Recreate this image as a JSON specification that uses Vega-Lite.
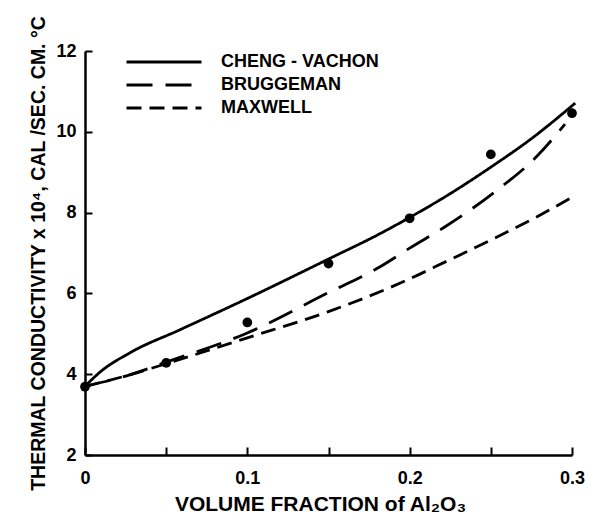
{
  "$schema": "https://vega.github.io/schema/vega-lite/v6.json",
  "width": 487,
  "height": 404,
  "autosize": {"type": "none"},
  "padding": {"left": 85, "top": 51, "right": 19, "bottom": 63},
  "background": "white",
  "config": {
    "view": {"stroke": null},
    "font": "Liberation Sans",
    "axis": {"domainColor": "black", "domainWidth": 2.5, "tickColor": "black", "tickWidth": 2, "labelColor": "black", "titleColor": "black", "grid": false}
  },
  "datasets": {
    "curves": [
      {"model": "CHENG - VACHON", "x": 0, "y": 3.7},
      {"model": "CHENG - VACHON", "x": 0.0092, "y": 4.05},
      {"model": "CHENG - VACHON", "x": 0.0277, "y": 4.53},
      {"model": "CHENG - VACHON", "x": 0.0585, "y": 5.1},
      {"model": "CHENG - VACHON", "x": 0.0998, "y": 5.87},
      {"model": "CHENG - VACHON", "x": 0.15, "y": 6.85},
      {"model": "CHENG - VACHON", "x": 0.1818, "y": 7.48},
      {"model": "CHENG - VACHON", "x": 0.2, "y": 7.88},
      {"model": "CHENG - VACHON", "x": 0.223, "y": 8.42},
      {"model": "CHENG - VACHON", "x": 0.252, "y": 9.18},
      {"model": "CHENG - VACHON", "x": 0.274, "y": 9.8},
      {"model": "CHENG - VACHON", "x": 0.302, "y": 10.71},
      {"model": "BRUGGEMAN", "x": 0, "y": 3.7},
      {"model": "BRUGGEMAN", "x": 0.028, "y": 3.99},
      {"model": "BRUGGEMAN", "x": 0.05, "y": 4.3},
      {"model": "BRUGGEMAN", "x": 0.1, "y": 5.02},
      {"model": "BRUGGEMAN", "x": 0.15, "y": 6.02},
      {"model": "BRUGGEMAN", "x": 0.1818, "y": 6.66},
      {"model": "BRUGGEMAN", "x": 0.2, "y": 7.12},
      {"model": "BRUGGEMAN", "x": 0.223, "y": 7.68},
      {"model": "BRUGGEMAN", "x": 0.252, "y": 8.5},
      {"model": "BRUGGEMAN", "x": 0.2785, "y": 9.4},
      {"model": "BRUGGEMAN", "x": 0.2957, "y": 10.19},
      {"model": "MAXWELL", "x": 0, "y": 3.7},
      {"model": "MAXWELL", "x": 0.028, "y": 3.99},
      {"model": "MAXWELL", "x": 0.05, "y": 4.26},
      {"model": "MAXWELL", "x": 0.1, "y": 4.9},
      {"model": "MAXWELL", "x": 0.15, "y": 5.55},
      {"model": "MAXWELL", "x": 0.1984, "y": 6.33},
      {"model": "MAXWELL", "x": 0.223, "y": 6.8},
      {"model": "MAXWELL", "x": 0.252, "y": 7.36},
      {"model": "MAXWELL", "x": 0.2785, "y": 7.9},
      {"model": "MAXWELL", "x": 0.2988, "y": 8.35}
    ],
    "points": [
      {"x": 0, "y": 3.69},
      {"x": 0.05, "y": 4.28},
      {"x": 0.1, "y": 5.28},
      {"x": 0.15, "y": 6.74},
      {"x": 0.2, "y": 7.86},
      {"x": 0.25, "y": 9.44},
      {"x": 0.3, "y": 10.46}
    ]
  },
  "layer": [
    {
      "data": {"name": "curves"},
      "mark": {"type": "line", "strokeWidth": 2.8, "color": "black", "interpolate": "monotone", "clip": false},
      "encoding": {
        "x": {
          "field": "x", "type": "quantitative",
          "scale": {"domain": [0, 0.3], "nice": false, "zero": false},
          "axis": {
            "values": [0, 0.05, 0.1, 0.15, 0.2, 0.25, 0.3],
            "labelExpr": "round(datum.value*100) % 10 == 0 ? (datum.value == 0 ? '0' : format(datum.value, '.1f')) : ''",
            "tickSize": -8,
            "labelPadding": 22,
            "labelFontSize": 18,
            "labelFontWeight": "bold",
            "labelFlush": false,
            "title": "VOLUME  FRACTION of Al₂O₃",
            "titleFontSize": 21,
            "titleFontWeight": "bold",
            "titlePadding": 6,
            "titleX": 235,
            "titleAnchor": "middle"
          }
        },
        "y": {
          "field": "y", "type": "quantitative",
          "scale": {"domain": [2, 12], "nice": false, "zero": false},
          "axis": {
            "values": [2, 4, 6, 8, 10, 12],
            "tickSize": -7,
            "labelPadding": 16,
            "labelFontSize": 18,
            "labelFontWeight": "bold",
            "title": "THERMAL CONDUCTIVITY x 10⁴, CAL /SEC. CM. °C",
            "titleFontSize": 19.5,
            "titleFontWeight": "bold",
            "titlePadding": 7
          }
        },
        "strokeDash": {
          "field": "model", "type": "nominal",
          "scale": {"domain": ["CHENG - VACHON", "BRUGGEMAN", "MAXWELL"], "range": [[1, 0], [26, 13], [15, 8]]},
          "legend": {
            "orient": "none",
            "legendX": 70,
            "legendY": 2,
            "title": null,
            "symbolType": "M-5,0H5",
            "symbolSize": 225,
            "symbolStrokeWidth": 2.8,
            "symbolStrokeColor": "black",
            "symbolFillColor": "transparent",
            "labelFontSize": 18,
            "labelFontWeight": "bold",
            "labelColor": "black",
            "labelOffset": 48,
            "rowPadding": 5
          }
        }
      }
    },
    {
      "data": {"name": "points"},
      "mark": {"type": "circle", "size": 95, "color": "black", "opacity": 1, "clip": false},
      "encoding": {
        "x": {"field": "x", "type": "quantitative"},
        "y": {"field": "y", "type": "quantitative"}
      }
    }
  ]
}
